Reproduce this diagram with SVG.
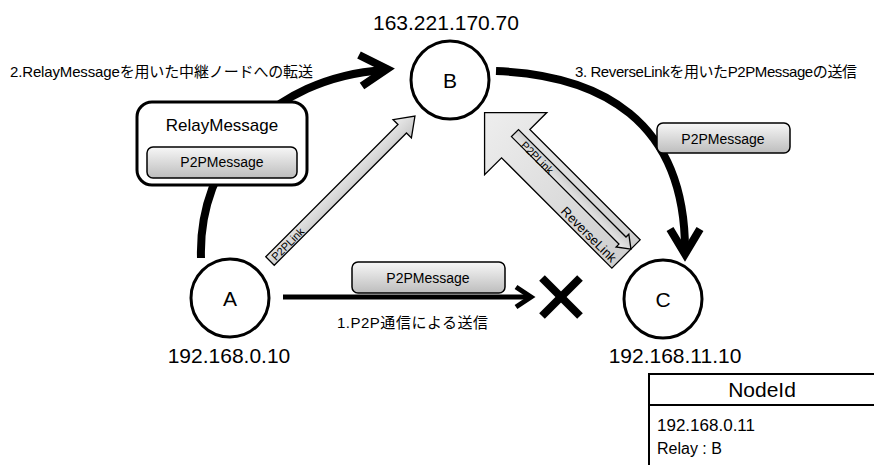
<svg xmlns="http://www.w3.org/2000/svg" width="874" height="465" viewBox="0 0 874 465">
  <defs>
    <linearGradient id="boxGrad" x1="0" y1="0" x2="0" y2="1">
      <stop offset="0" stop-color="#f7f7f7"/>
      <stop offset="1" stop-color="#bdbdbd"/>
    </linearGradient>
    <linearGradient id="arrowGrad" x1="0" y1="0" x2="0" y2="1">
      <stop offset="0" stop-color="#eeeeee"/>
      <stop offset="1" stop-color="#c4c4c4"/>
    </linearGradient>
    <linearGradient id="bigGrad" x1="0" y1="0" x2="1" y2="0">
      <stop offset="0" stop-color="#cfcfcf"/>
      <stop offset="1" stop-color="#eeeeee"/>
    </linearGradient>
  </defs>
  <style>
    text { font-family: "Liberation Sans", "Noto Sans CJK JP", sans-serif; fill: #000; }
    .node { fill: #fff; stroke: #000; stroke-width: 3; }
    .nodeLabel { font-size: 21px; text-anchor: middle; }
    .ip { font-size: 21px; text-anchor: middle; }
    .msg { fill: url(#boxGrad); stroke: #000; stroke-width: 1.5; }
    .msgText { font-size: 14px; text-anchor: middle; }
    .step { font-size: 15px; }
    .flow { fill: none; stroke: #000; stroke-width: 8; }
    .head { fill: none; stroke: #000; stroke-width: 8; stroke-linejoin: miter; }
    .link { stroke: #000; stroke-width: 1.3; }
    .linkText { font-size: 11px; }
  </style>

  <!-- connectors -->
  <g id="connectors">
    <!-- 2. relay via B -->
    <path class="flow" d="M 201 258 C 198 160, 270 78, 384 70"/>
    <polyline class="head" points="359,55 387,69 362,86"/>
    <!-- 3. reverse link delivery -->
    <path class="flow" d="M 496 71 C 600 75, 685 120, 685 250"/>
    <polyline class="head" points="670,229 685,254 700,229"/>
    <!-- 1. direct P2P attempt -->
    <line x1="283" y1="297" x2="530" y2="297" stroke="#000" stroke-width="5"/>
    <polyline points="516,287 531,297 516,307" fill="none" stroke="#000" stroke-width="5"/>
    <!-- blocked -->
    <g id="blocked" stroke="#000" stroke-width="8">
      <line x1="542" y1="278" x2="580" y2="316"/>
      <line x1="580" y1="278" x2="542" y2="316"/>
    </g>

    <!-- P2PLink A to B -->
    <g id="p2plink-ab" transform="translate(270,261) rotate(-45)">
      <polygon class="link" fill="url(#arrowGrad)" points="0,-6 187,-6 187,-13 205,0 187,13 187,6 0,6"/>
      <text class="linkText" x="4" y="4.5">P2PLink</text>
    </g>

    <!-- ReverseLink C to B with inner P2PLink -->
    <g id="reverselink" transform="translate(626,254) rotate(-135)">
      <polygon class="link" fill="url(#bigGrad)" points="0,-20 156,-20 156,-44 200,0 156,44 156,20 0,20"/>
      <polygon class="link" fill="url(#arrowGrad)" points="0,7 12,-2 12,2 164,2 164,12 12,12 12,16"/>
    </g>
    <text class="linkText" x="520" y="146" transform="rotate(45 520 146)">P2PLink</text>
    <text x="560" y="212" font-size="13" transform="rotate(45 560 212)">ReverseLink</text>
  </g>

  <!-- step captions -->
  <text class="step" x="10" y="77" textLength="303" lengthAdjust="spacing">2.RelayMessageを用いた中継ノードへの転送</text>
  <text class="step" x="575" y="77" textLength="282" lengthAdjust="spacing">3. ReverseLinkを用いたP2PMessageの送信</text>
  <text class="step" x="337" y="328" textLength="151" lengthAdjust="spacing">1.P2P通信による送信</text>

  <!-- relay message envelope -->
  <g id="relay-message">
    <rect x="137" y="102" width="170" height="83" rx="15" fill="#fff" stroke="#000" stroke-width="3"/>
    <text x="222" y="131" font-size="17" text-anchor="middle">RelayMessage</text>
    <rect class="msg" x="147" y="147" width="150" height="31" rx="6"/>
    <text class="msgText" x="222" y="167">P2PMessage</text>
  </g>

  <g id="msg-direct">
    <rect class="msg" x="352" y="262" width="153" height="31" rx="6"/>
    <text class="msgText" x="428" y="283">P2PMessage</text>
  </g>

  <g id="msg-reverse">
    <rect class="msg" x="657" y="123" width="133" height="30" rx="6"/>
    <text class="msgText" x="723" y="144">P2PMessage</text>
  </g>

  <!-- nodes -->
  <g id="node-a">
    <circle class="node" cx="230" cy="298" r="39"/>
    <text class="nodeLabel" x="230" y="306">A</text>
    <text class="ip" x="229" y="363">192.168.0.10</text>
  </g>
  <g id="node-b">
    <circle class="node" cx="450" cy="80" r="39"/>
    <text class="nodeLabel" x="450" y="88">B</text>
    <text class="ip" x="446" y="30">163.221.170.70</text>
  </g>
  <g id="node-c">
    <circle class="node" cx="663" cy="299" r="39"/>
    <text class="nodeLabel" x="663" y="307">C</text>
    <text class="ip" x="675" y="363">192.168.11.10</text>
  </g>

  <!-- node id table -->
  <g id="nodeid-table">
    <rect x="649" y="374" width="240" height="110" fill="#fff" stroke="#000" stroke-width="2"/>
    <line x1="649" y1="405" x2="874" y2="405" stroke="#000" stroke-width="2"/>
    <text x="762" y="397" font-size="21" text-anchor="middle">NodeId</text>
    <text x="657" y="431" font-size="17">192.168.0.11</text>
    <text x="657" y="454" font-size="16">Relay : B</text>
  </g>
</svg>
